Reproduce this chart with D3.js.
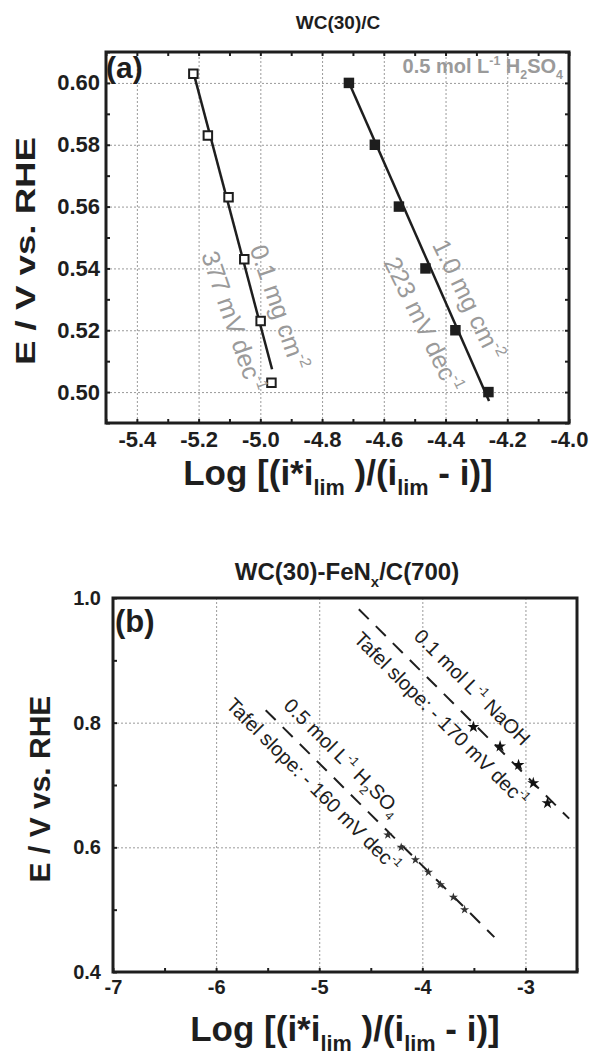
<!DOCTYPE html>
<html>
<head>
<meta charset="UTF-8">
<style>
  body { margin: 0; background: #fff; }
  svg { display: block; font-family: "Liberation Sans", Arial, Helvetica, sans-serif; }
  .grid line { stroke: #9a9a9a; stroke-width: 1; stroke-dasharray: 2,2; }
  .grid path, .ticks path, .lbl path { display: none; }
  .ticks line { stroke: #1e1e1e; stroke-width: 2; }
  .lbl line { display: none; }
  .lbl text { font-weight: bold; fill: #1e1e1e; font-family: "Liberation Sans", Arial, sans-serif; }
</style>
</head>
<body>
<svg width="590" height="1057"></svg>
<script src="https://d3js.org/d3.v7.min.js"></script>
<script>

// ---- panel (a) data : WC(30)/C in 0.5 M H2SO4
const logA_low = [-5.217, -5.170, -5.103, -5.052, -4.999, -4.964];   // 0.1 mg cm-2
const eA_low   = [0.603, 0.583, 0.563, 0.543, 0.523, 0.503];
const logA_high = [-4.713, -4.629, -4.551, -4.465, -4.368, -4.261];  // 1.0 mg cm-2
const eA_high   = [0.600, 0.580, 0.560, 0.540, 0.520, 0.500];
// fitted Tafel lines (end points)
const fitA_low  = [[-5.217, 0.6035], [-4.962, 0.5074]];
const fitA_high = [[-4.713, 0.6001], [-4.259, 0.4971]];

const ticksA_x = [-5.4, -5.2, -5.0, -4.8, -4.6, -4.4, -4.2, -4.0];
const ticksA_y = [0.50, 0.52, 0.54, 0.56, 0.58, 0.60];

// ---- panel (b) data : WC(30)-FeNx/C(700)
const logB_acid = [-4.335, -4.205, -4.067, -3.941, -3.825, -3.699, -3.590];
const eB_acid   = [0.620, 0.600, 0.580, 0.560, 0.540, 0.520, 0.500];
const logB_base = [-3.505, -3.246, -3.067, -2.924, -2.786];
const eB_base   = [0.793, 0.762, 0.732, 0.703, 0.671];
const fitB_acid = [[-5.519, 0.820], [-3.302, 0.456]];
const fitB_base = [[-4.616, 0.982], [-2.576, 0.646]];

const ticksB_x = [-7, -6, -5, -4, -3];
const ticksB_y = [0.4, 0.6, 0.8, 1.0];

const grey = "#9a9a9a";
const svg = d3.select("svg");

// scales
const xA = d3.scaleLinear().domain([-5.5, -4.0]).range([106, 569]);
const yA = d3.scaleLinear().domain([0.49, 0.61]).range([423, 52]);
const xB = d3.scaleLinear().domain([-7, -2.5]).range([113, 577]);
const yB = d3.scaleLinear().domain([0.4, 1.0]).range([972, 598]);

// text with sub / superscripts, parts = [[text, kind], ...]
function rich(sel, parts, size) {
  let shift = 0;
  parts.forEach(p => {
    const k = p[1];
    const target = k == "sup" ? -0.42 * size : k == "sub" ? 0.28 * size : 0;
    sel.append("tspan")
      .attr("dy", target - shift)
      .style("font-size", (k ? size * 0.62 : size) + "px")
      .text(p[0]);
    shift = target;
  });
  return sel;
}

function drawFrame(x, y, xt, yt, xMinor, yMinor, xGrid, yGrid, fmtX, fmtY, allSides, fs) {
  const [x0, x1] = x.range(), [y0, y1] = y.range();
  const w = x1 - x0, h = y0 - y1;
  const g = svg.append("g");

  g.append("g").attr("class", "grid").attr("transform", `translate(0,${y0})`)
    .call(d3.axisBottom(x).tickValues(xGrid).tickSize(-h).tickFormat(""));
  g.append("g").attr("class", "grid").attr("transform", `translate(${x0},0)`)
    .call(d3.axisLeft(y).tickValues(yGrid).tickSize(-w).tickFormat(""));

  // inward ticks
  g.append("g").attr("class", "ticks").attr("transform", `translate(0,${y0})`)
    .call(d3.axisBottom(x).tickValues(xMinor).tickSize(-4).tickFormat(""));
  g.append("g").attr("class", "ticks").attr("transform", `translate(${x0},0)`)
    .call(d3.axisLeft(y).tickValues(yMinor).tickSize(-4).tickFormat(""));
  if (allSides) {
    g.append("g").attr("class", "ticks").attr("transform", `translate(0,${y1})`)
      .call(d3.axisTop(x).tickValues(xMinor).tickSize(-4).tickFormat(""));
    g.append("g").attr("class", "ticks").attr("transform", `translate(${x1},0)`)
      .call(d3.axisRight(y).tickValues(yMinor).tickSize(-4).tickFormat(""));
  }

  // tick labels
  g.append("g").attr("class", "lbl").attr("transform", `translate(0,${y0})`)
    .call(d3.axisBottom(x).tickValues(xt).tickSize(0).tickPadding(8).tickFormat(fmtX))
    .selectAll("text").style("font-size", fs + "px");
  g.append("g").attr("class", "lbl").attr("transform", `translate(${x0},0)`)
    .call(d3.axisLeft(y).tickValues(yt).tickSize(0).tickPadding(allSides ? 6 : 12).tickFormat(fmtY))
    .selectAll("text").style("font-size", fs + "px");

  g.append("rect").attr("x", x0).attr("y", y1).attr("width", w).attr("height", h)
    .attr("fill", "none").attr("stroke", "#1e1e1e").attr("stroke-width", 3);
  return g;
}

function rotLabel(px, py, angle, parts, size, color) {
  const t = svg.append("text")
    .attr("transform", `translate(${px},${py}) rotate(${angle})`)
    .attr("text-anchor", "middle")
    .attr("fill", color);
  rich(t, parts, size);
}

const line = (x, y) => d3.line().x(d => x(d[0])).y(d => y(d[1]));

// ================= panel (a) =================
drawFrame(xA, yA, ticksA_x, ticksA_y,
  d3.range(-5.5, -3.95, 0.1), d3.range(0.49, 0.615, 0.01),
  [-5.4, -5.2, -5.0, -4.8, -4.6, -4.4, -4.2], ticksA_y,
  d => d.toFixed(1), d => d.toFixed(2), true, 22);

svg.append("text").attr("x", 338).attr("y", 29).attr("text-anchor", "middle")
  .attr("font-weight", "bold").attr("font-size", 19).attr("fill", "#1e1e1e").text("WC(30)/C");

svg.append("text").attr("x", 106).attr("y", 78).attr("font-weight", "bold")
  .attr("font-size", 30).attr("fill", "#1e1e1e").text("(a)");

rich(svg.append("text").attr("x", 563).attr("y", 73).attr("text-anchor", "end")
  .attr("font-weight", "bold").attr("fill", grey),
  [["0.5 mol L"], ["-1", "sup"], [" H"], ["2", "sub"], ["SO"], ["4", "sub"]], 20);

svg.append("path").datum(fitA_low).attr("d", line(xA, yA))
  .attr("fill", "none").attr("stroke", "#1e1e1e").attr("stroke-width", 2.5);
svg.append("path").datum(fitA_high).attr("d", line(xA, yA))
  .attr("fill", "none").attr("stroke", "#1e1e1e").attr("stroke-width", 2.5);

const sq = d3.symbol().type(d3.symbolSquare);
svg.append("g").selectAll("path").data(d3.zip(logA_low, eA_low)).join("path")
  .attr("transform", d => `translate(${xA(d[0])},${yA(d[1])})`)
  .attr("d", sq.size(72)())
  .attr("fill", "#fff").attr("stroke", "#1e1e1e").attr("stroke-width", 2);
svg.append("g").selectAll("path").data(d3.zip(logA_high, eA_high)).join("path")
  .attr("transform", d => `translate(${xA(d[0])},${yA(d[1])})`)
  .attr("d", sq.size(110)())
  .attr("fill", "#1e1e1e");

rotLabel(xA(-4.966), yA(0.5265), 71, [["0.1 mg cm"], ["-2", "sup"]], 25, grey);
rotLabel(xA(-5.1145), yA(0.5219), 71, [["377 mV dec"], ["-1", "sup"]], 25, grey);
rotLabel(xA(-4.3516), yA(0.5287), 64, [["1.0 mg cm"], ["-2", "sup"]], 25, grey);
rotLabel(xA(-4.497), yA(0.5206), 64, [["223 mV dec"], ["-1", "sup"]], 25, grey);

svg.append("text").attr("transform", "translate(35,251) rotate(-90)")
  .attr("text-anchor", "middle").attr("font-weight", "bold").attr("font-size", 28)
  .attr("fill", "#1e1e1e").attr("textLength", 228).attr("lengthAdjust", "spacingAndGlyphs")
  .text("E / V vs. RHE");

rich(svg.append("text").attr("x", 338).attr("y", 485).attr("text-anchor", "middle")
  .attr("font-weight", "bold").attr("fill", "#1e1e1e"),
  [["Log [(i*i"], ["lim", "sub"], [" )/(i"], ["lim", "sub"], [" - i)]"]], 35);

// ================= panel (b) =================
drawFrame(xB, yB, ticksB_x, ticksB_y,
  d3.range(-7, -2.45, 0.5), d3.range(0.4, 1.05, 0.1),
  [-6, -5, -4, -3], [0.6, 0.8],
  d => d.toFixed(0), d => d.toFixed(1), false, 20);

rich(svg.append("text").attr("x", 347).attr("y", 580).attr("text-anchor", "middle")
  .attr("font-weight", "bold").attr("fill", "#1e1e1e"),
  [["WC(30)-FeN"], ["x", "sub"], ["/C(700)"]], 24);

svg.append("text").attr("x", 115).attr("y", 632).attr("font-weight", "bold")
  .attr("font-size", 31).attr("fill", "#1e1e1e").text("(b)");

[fitB_acid, fitB_base].forEach(f => {
  svg.append("path").datum(f).attr("d", line(xB, yB))
    .attr("fill", "none").attr("stroke", "#1e1e1e").attr("stroke-width", 2)
    .attr("stroke-dasharray", "14,10");
});

const star = d3.symbol().type(d3.symbolStar);
svg.append("g").selectAll("path").data(d3.zip(logB_acid, eB_acid)).join("path")
  .attr("transform", d => `translate(${xB(d[0])},${yB(d[1])})`)
  .attr("d", star.size(26)()).attr("fill", "#333");
svg.append("g").selectAll("path").data(d3.zip(logB_base, eB_base)).join("path")
  .attr("transform", d => `translate(${xB(d[0])},${yB(d[1])})`)
  .attr("d", star.size(44)()).attr("fill", "#111");

rotLabel(xB(-5.103), yB(0.692), 45, [["Tafel slope: - 160 mV dec"], ["-1", "sup"]], 20, "#1e1e1e");
rotLabel(xB(-4.822), yB(0.737), 45, [["0.5 mol L"], ["-1", "sup"], [" H"], ["2", "sub"], ["SO"], ["4", "sub"]], 20, "#1e1e1e");
rotLabel(xB(-3.563), yB(0.849), 45, [["0.1 mol L"], ["-1", "sup"], [" NaOH"]], 20, "#1e1e1e");
rotLabel(xB(-3.864), yB(0.798), 45, [["Tafel slope: - 170 mV dec"], ["-1", "sup"]], 20, "#1e1e1e");

svg.append("text").attr("transform", "translate(50,789) rotate(-90)")
  .attr("text-anchor", "middle").attr("font-weight", "bold").attr("font-size", 30)
  .attr("fill", "#1e1e1e").text("E / V vs. RHE");

rich(svg.append("text").attr("x", 345).attr("y", 1041).attr("text-anchor", "middle")
  .attr("font-weight", "bold").attr("fill", "#1e1e1e"),
  [["Log [(i*i"], ["lim", "sub"], [" )/(i"], ["lim", "sub"], [" - i)]"]], 35);

</script>
</body>
</html>
